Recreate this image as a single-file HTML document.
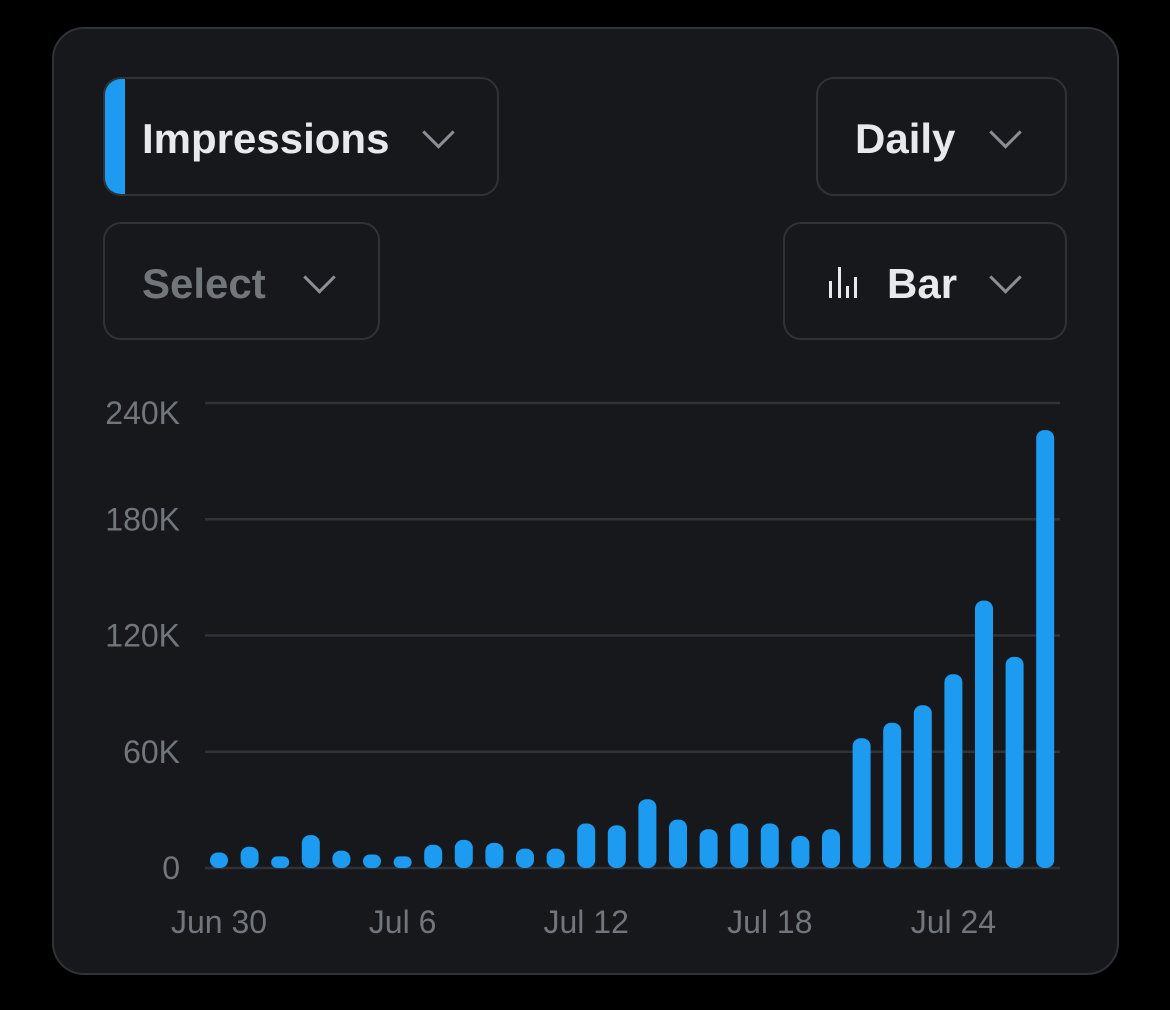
<!DOCTYPE html>
<html><head><meta charset="utf-8"><style>
html,body{margin:0;padding:0;background:#000;width:1170px;height:1010px;overflow:hidden;font-family:"Liberation Sans",sans-serif}
.card{position:absolute;left:52px;top:27px;width:1063px;height:944px;background:#17181c;border:2px solid #2f3336;border-radius:32px}
.btn{position:absolute;border:2px solid #2f3336;border-radius:18px;box-sizing:border-box;color:#e7e9ea;font-weight:bold;font-size:42px;display:flex;align-items:center;overflow:hidden}
.chev{position:absolute;width:20px;height:20px;border-right:3px solid #8b8f94;border-bottom:3px solid #8b8f94;transform:rotate(45deg)}
</style></head><body>
<div class="card"></div>
<div class="btn" style="left:103px;top:77px;width:396px;height:119px">
  <div style="position:absolute;left:0;top:0;width:20px;height:100%;background:#1d9bf0"></div>
  <span style="position:absolute;left:37px;top:36px">Impressions</span>
  <div class="chev" style="left:322px;top:42px"></div>
</div>
<div class="btn" style="left:816px;top:77px;width:251px;height:119px">
  <span style="position:absolute;left:37px;top:36px">Daily</span>
  <div class="chev" style="left:176px;top:42px"></div>
</div>
<div class="btn" style="left:103px;top:222px;width:277px;height:118px;color:#71767b">
  <span style="position:absolute;left:37px;top:36px">Select</span>
  <div class="chev" style="left:203px;top:42px"></div>
</div>
<div class="btn" style="left:783px;top:222px;width:284px;height:118px">
  <svg style="position:absolute;left:40px;top:38px" width="36" height="40">
    <rect x="4" y="19" width="3" height="17" fill="#e7e9ea"/><rect x="13" y="5" width="3" height="31" fill="#e7e9ea"/><rect x="21" y="24" width="3" height="12" fill="#e7e9ea"/><rect x="29" y="15" width="3" height="21" fill="#e7e9ea"/>
  </svg>
  <span style="position:absolute;left:102px;top:36px">Bar</span>
  <div class="chev" style="left:209px;top:42px"></div>
</div>
<svg id="chart" width="1170" height="1010" style="position:absolute;left:0;top:0"></svg>
<script>
const categories=["Jun 30","Jul 1","Jul 2","Jul 3","Jul 4","Jul 5","Jul 6","Jul 7","Jul 8","Jul 9","Jul 10","Jul 11","Jul 12","Jul 13","Jul 14","Jul 15","Jul 16","Jul 17","Jul 18","Jul 19","Jul 20","Jul 21","Jul 22","Jul 23","Jul 24","Jul 25","Jul 26","Jul 27"];
const impressions=[8,11,6,17,9,7,6,12,14.5,13,10,10,23,22,35.5,25,20,23,23,16.5,20,67,75,84,100,138,109,226];
const yTicks=[0,60,120,180,240];
const yTickLabels=["0","60K","120K","180K","240K"];
const xTickLabels=["Jun 30","Jul 6","Jul 12","Jul 18","Jul 24"];
const svg=document.getElementById('chart');const NS='http://www.w3.org/2000/svg';
const y0=868,yTop=403,yMax=240,x0=219,step=30.6;
const yScale=v=>y0-(v/yMax)*(y0-yTop);
const xScale=i=>x0+i*step;
function mk(t,a){const e=document.createElementNS(NS,t);for(const k in a)e.setAttribute(k,a[k]);svg.appendChild(e);return e;}
yTicks.forEach((t,i)=>{
  const l=mk('line',{x1:205,x2:1060,y1:yScale(t),y2:yScale(t),stroke:'#2f3336','stroke-width':2.5});
  
  
  const ly=Math.max(yScale(t),413);
  const tx=mk('text',{x:180,y:ly+11,'text-anchor':'end',fill:'#71767b','font-size':32,'font-family':'Liberation Sans, sans-serif'});
  tx.textContent=yTickLabels[i];
  
  
});
impressions.forEach((v,i)=>{
  const top=yScale(v),h=y0-top;
  const r=mk('rect',{x:xScale(i)-9,y:top,width:18,height:h,rx:Math.min(8,h/2),fill:'#1d9bf0'});
  
  
});
xTickLabels.forEach(lbl=>{
  const i=categories.indexOf(lbl);
  const tx=mk('text',{x:xScale(i),y:933,'text-anchor':'middle',fill:'#71767b','font-size':32,'font-family':'Liberation Sans, sans-serif'});
  tx.textContent=lbl;
  
  
});
</script>
</body></html>
